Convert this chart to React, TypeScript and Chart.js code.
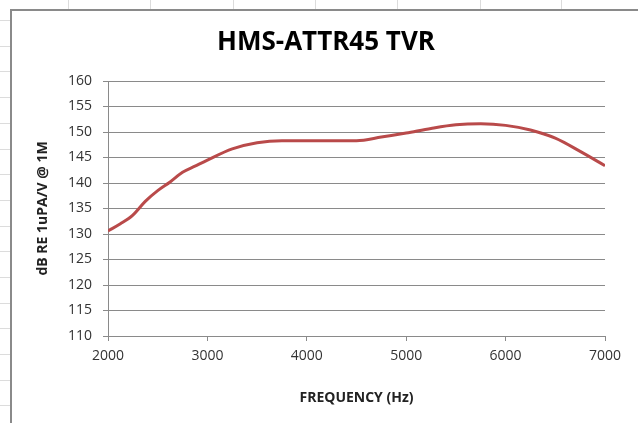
import React, { useEffect, useRef } from "react";
import { Chart, registerables } from "chart.js";

Chart.register(...registerables);

const chartTitle = "HMS-ATTR45 TVR";
const xAxisTitle = "FREQUENCY (Hz)";
const yAxisTitle = "dB RE 1uPA/V @ 1M";
const frequencies = [2000, 2125, 2250, 2375, 2500, 2625, 2750, 2875, 3000, 3250, 3500, 3750, 4000, 4250, 4500, 4750, 5000, 5250, 5500, 5750, 6000, 6250, 6500, 6750, 7000];
const tvr = [130.6, 132.0, 133.7, 136.4, 138.5, 140.2, 142.1, 143.3, 144.5, 146.7, 147.9, 148.3, 148.3, 148.3, 148.3, 149.0, 149.8, 150.7, 151.4, 151.6, 151.3, 150.4, 148.8, 146.2, 143.4];
const xTicks = [2000, 3000, 4000, 5000, 6000, 7000];
const yTicks = [110, 115, 120, 125, 130, 135, 140, 145, 150, 155, 160];

const backgroundPlugin = {
  id: "sheetBackground",
  beforeDraw(chart: any) {
    const ctx = chart.ctx;
    const w = chart.width;
    const h = chart.height;
    ctx.save();
    ctx.fillStyle = "#ffffff";
    ctx.fillRect(0, 0, w, h);
    ctx.strokeStyle = "#dcdcdc";
    ctx.lineWidth = 1;
    const cols = [68, 150, 233, 315, 397, 480, 561];
    cols.forEach((x) => {
      ctx.beginPath();
      ctx.moveTo(x + 0.5, 0);
      ctx.lineTo(x + 0.5, 9);
      ctx.stroke();
    });
    for (let y = 20; y < h; y += 25.7) {
      ctx.beginPath();
      ctx.moveTo(0, Math.round(y) + 0.5);
      ctx.lineTo(10, Math.round(y) + 0.5);
      ctx.stroke();
    }
    ctx.strokeStyle = "#8a8a8a";
    ctx.lineWidth = 2;
    ctx.beginPath();
    ctx.moveTo(11, h);
    ctx.lineTo(11, 10);
    ctx.lineTo(w, 10);
    ctx.stroke();
    ctx.fillStyle = "#000000";
    ctx.font = "bold 26px 'Open Sans'";
    ctx.textAlign = "center";
    ctx.textBaseline = "middle";
    ctx.fillText(chartTitle, 326, 43);
    ctx.restore();
  },
};

export default function App() {
  const ref = useRef<HTMLCanvasElement | null>(null);

  useEffect(() => {
    if (!ref.current) return;
    const chart = new Chart(ref.current, {
      type: "line",
      data: {
        datasets: [
          {
            label: "TVR",
            data: frequencies.map((f, i) => ({ x: f, y: tvr[i] })),
            borderColor: "#b94a4a",
            borderWidth: 3,
            pointRadius: 0,
            cubicInterpolationMode: "monotone",
            fill: false,
          },
        ],
      },
      options: {
        animation: false,
        responsive: false,
        maintainAspectRatio: false,
        layout: { padding: { left: 0, right: 33, top: 81, bottom: 0 } },
        plugins: {
          legend: { display: false },
          tooltip: { enabled: false },
          title: { display: false },
        },
        scales: {
          x: {
            type: "linear",
            min: 2000,
            max: 7000,
            afterBuildTicks: (scale: any) => {
              scale.ticks = xTicks.map((v) => ({ value: v }));
            },
            afterFit: (scale: any) => {
              scale.height = 87;
            },
            grid: {
              display: true,
              drawOnChartArea: false,
              drawTicks: true,
              tickLength: 5,
              color: "#8a8a8a",
            },
            border: { display: true, color: "#8a8a8a", width: 1 },
            ticks: {
              color: "#333333",
              font: { family: "Open Sans", size: 14 },
              padding: 7,
              maxRotation: 0,
              callback: (v: any) => String(v),
            },
            title: {
              display: true,
              text: xAxisTitle,
              color: "#222222",
              font: { family: "Open Sans", size: 14, weight: "bold" },
              padding: { top: 0, bottom: 17 },
            },
          },
          y: {
            type: "linear",
            min: 110,
            max: 160,
            afterBuildTicks: (scale: any) => {
              scale.ticks = yTicks.map((v) => ({ value: v }));
            },
            afterFit: (scale: any) => {
              scale.width = 108;
            },
            grid: {
              display: true,
              drawTicks: true,
              tickLength: 5,
              color: "#8a8a8a",
            },
            border: { display: true, color: "#8a8a8a", width: 1 },
            ticks: {
              color: "#333333",
              font: { family: "Open Sans", size: 14 },
              padding: 11,
              callback: (v: any) => String(v),
            },
            title: {
              display: true,
              text: yAxisTitle,
              color: "#222222",
              font: { family: "Open Sans", size: 14, weight: "bold" },
              padding: { top: 35, bottom: 0 },
            },
          },
        },
      },
      plugins: [backgroundPlugin],
    });
    return () => chart.destroy();
  }, []);

  return (
    <div style={{ position: "fixed", left: 0, top: 0, width: 638, height: 423, background: "#fff" }}>
      <canvas ref={ref} width={638} height={423} style={{ display: "block", width: 638, height: 423 }} />
    </div>
  );
}
